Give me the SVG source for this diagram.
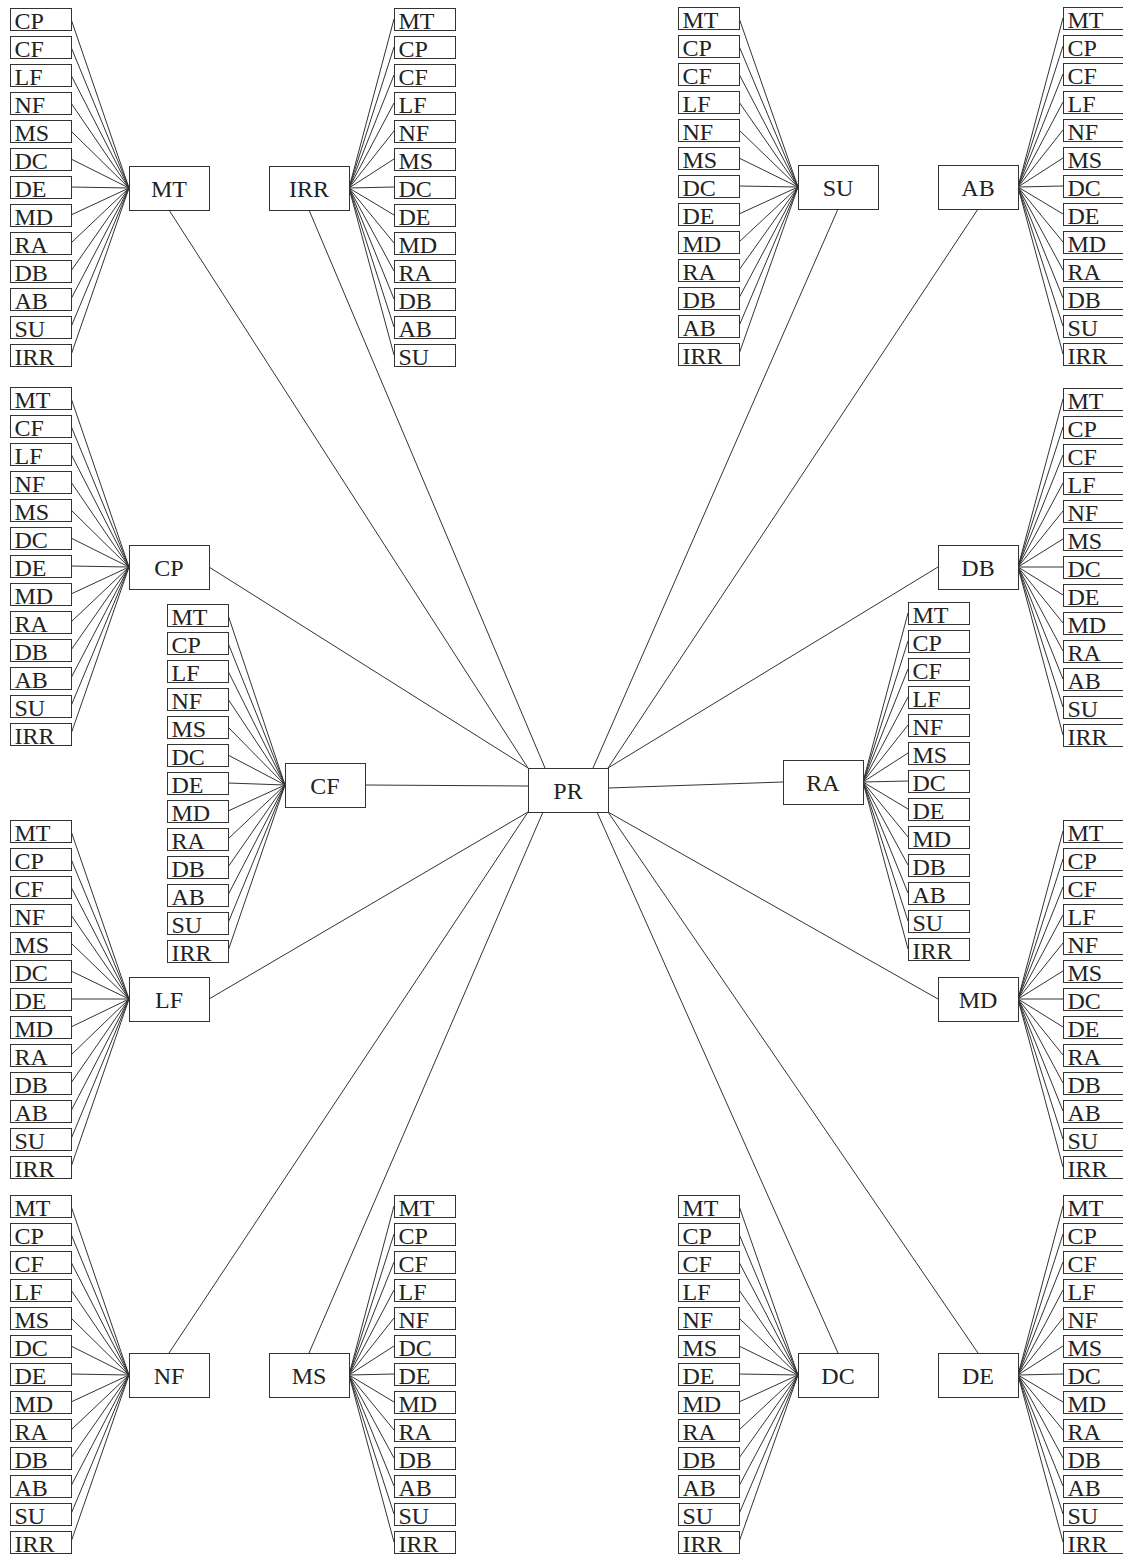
<svg xmlns="http://www.w3.org/2000/svg" xmlns:xlink="http://www.w3.org/1999/xlink" width="1123" height="1554" viewBox="0 0 1123 1554">
<style>
.bx{fill:#fff;stroke:#333;stroke-width:1}
.t{font-family:"Liberation Serif","Times New Roman",serif;font-size:24px;fill:#222}
.hc{text-anchor:middle}
.cn{fill:none;stroke:#333;stroke-width:1}
</style>
<defs>
<rect id="lb" class="bx" width="61" height="22"/>
<rect id="hb" class="bx" width="80" height="44"/>
</defs>
<rect width="1123" height="1554" fill="#fff"/>
<g id="connectors" class="cn">
<path d="M71 19L129 188M71 47L129 188M71 75L129 188M71 103L129 188M71 131L129 188M71 159L129 188M71 187L129 188M71 215L129 188M71 243L129 188M71 271L129 188M71 299L129 188M71 327L129 188M71 355L129 188"/>
<path d="M349 188L394 19M349 188L394 47M349 188L394 75M349 188L394 103M349 188L394 131M349 188L394 159M349 188L394 187M349 188L394 215M349 188L394 243M349 188L394 271M349 188L394 299M349 188L394 327M349 188L394 355"/>
<path d="M739 18L798 187M739 46L798 187M739 74L798 187M739 102L798 187M739 130L798 187M739 158L798 187M739 186L798 187M739 214L798 187M739 242L798 187M739 270L798 187M739 298L798 187M739 326L798 187M739 354L798 187"/>
<path d="M1018 187L1063 18M1018 187L1063 46M1018 187L1063 74M1018 187L1063 102M1018 187L1063 130M1018 187L1063 158M1018 187L1063 186M1018 187L1063 214M1018 187L1063 242M1018 187L1063 270M1018 187L1063 298M1018 187L1063 326M1018 187L1063 354"/>
<path d="M71 398L129 567M71 426L129 567M71 454L129 567M71 482L129 567M71 510L129 567M71 538L129 567M71 566L129 567M71 594L129 567M71 622L129 567M71 650L129 567M71 678L129 567M71 706L129 567M71 734L129 567"/>
<path d="M1018 567L1063 399M1018 567L1063 427M1018 567L1063 455M1018 567L1063 483M1018 567L1063 511M1018 567L1063 539M1018 567L1063 567M1018 567L1063 595M1018 567L1063 623M1018 567L1063 651M1018 567L1063 679M1018 567L1063 707M1018 567L1063 735"/>
<path d="M228 615L285 785M228 643L285 785M228 671L285 785M228 699L285 785M228 727L285 785M228 755L285 785M228 783L285 785M228 811L285 785M228 839L285 785M228 867L285 785M228 895L285 785M228 923L285 785M228 951L285 785"/>
<path d="M863 782L908 613M863 782L908 641M863 782L908 669M863 782L908 697M863 782L908 725M863 782L908 753M863 782L908 781M863 782L908 809M863 782L908 837M863 782L908 865M863 782L908 893M863 782L908 921M863 782L908 949"/>
<path d="M71 831L129 999M71 859L129 999M71 887L129 999M71 915L129 999M71 943L129 999M71 971L129 999M71 999L129 999M71 1027L129 999M71 1055L129 999M71 1083L129 999M71 1111L129 999M71 1139L129 999M71 1167L129 999"/>
<path d="M1018 999L1063 831M1018 999L1063 859M1018 999L1063 887M1018 999L1063 915M1018 999L1063 943M1018 999L1063 971M1018 999L1063 999M1018 999L1063 1027M1018 999L1063 1055M1018 999L1063 1083M1018 999L1063 1111M1018 999L1063 1139M1018 999L1063 1167"/>
<path d="M71 1206L129 1375M71 1234L129 1375M71 1262L129 1375M71 1290L129 1375M71 1318L129 1375M71 1346L129 1375M71 1374L129 1375M71 1402L129 1375M71 1430L129 1375M71 1458L129 1375M71 1486L129 1375M71 1514L129 1375M71 1542L129 1375"/>
<path d="M349 1375L394 1206M349 1375L394 1234M349 1375L394 1262M349 1375L394 1290M349 1375L394 1318M349 1375L394 1346M349 1375L394 1374M349 1375L394 1402M349 1375L394 1430M349 1375L394 1458M349 1375L394 1486M349 1375L394 1514M349 1375L394 1542"/>
<path d="M739 1206L798 1375M739 1234L798 1375M739 1262L798 1375M739 1290L798 1375M739 1318L798 1375M739 1346L798 1375M739 1374L798 1375M739 1402L798 1375M739 1430L798 1375M739 1458L798 1375M739 1486L798 1375M739 1514L798 1375M739 1542L798 1375"/>
<path d="M1018 1375L1063 1206M1018 1375L1063 1234M1018 1375L1063 1262M1018 1375L1063 1290M1018 1375L1063 1318M1018 1375L1063 1346M1018 1375L1063 1374M1018 1375L1063 1402M1018 1375L1063 1430M1018 1375L1063 1458M1018 1375L1063 1486M1018 1375L1063 1514M1018 1375L1063 1542"/>
<path d="M169 210L528 768M309 210L545 768M838 209L593 768M978 209L608 768M209 567L528 768M938 567L608 768M365 785L528 786M608 788L783 782M209 999L528 812M938 999L608 812M169 1353L528 812M309 1353L543 812M838 1353L597 812M978 1353L608 812"/>
</g>
<g id="PR"><use href="#hb" x="528.5" y="768.5"/><text class="t hc" x="568" y="799">PR</text></g>
<g id="MT"><use href="#hb" x="129.5" y="166.5"/><text class="t hc" x="169" y="197">MT</text></g>
<g id="MT-leaves" transform="translate(10.5,8.5)"><use href="#lb"/><use href="#lb" y="28"/><use href="#lb" y="56"/><use href="#lb" y="84"/><use href="#lb" y="112"/><use href="#lb" y="140"/><use href="#lb" y="168"/><use href="#lb" y="196"/><use href="#lb" y="224"/><use href="#lb" y="252"/><use href="#lb" y="280"/><use href="#lb" y="308"/><use href="#lb" y="336"/>
<text class="t" x="4" y="20">CP</text><text class="t" x="4" y="48">CF</text><text class="t" x="4" y="76">LF</text><text class="t" x="4" y="104">NF</text><text class="t" x="4" y="132">MS</text><text class="t" x="4" y="160">DC</text><text class="t" x="4" y="188">DE</text><text class="t" x="4" y="216">MD</text><text class="t" x="4" y="244">RA</text><text class="t" x="4" y="272">DB</text><text class="t" x="4" y="300">AB</text><text class="t" x="4" y="328">SU</text><text class="t" x="4" y="356">IRR</text></g>
<g id="IRR"><use href="#hb" x="269.5" y="166.5"/><text class="t hc" x="309" y="197">IRR</text></g>
<g id="IRR-leaves" transform="translate(394.5,8.5)"><use href="#lb"/><use href="#lb" y="28"/><use href="#lb" y="56"/><use href="#lb" y="84"/><use href="#lb" y="112"/><use href="#lb" y="140"/><use href="#lb" y="168"/><use href="#lb" y="196"/><use href="#lb" y="224"/><use href="#lb" y="252"/><use href="#lb" y="280"/><use href="#lb" y="308"/><use href="#lb" y="336"/>
<text class="t" x="4" y="20">MT</text><text class="t" x="4" y="48">CP</text><text class="t" x="4" y="76">CF</text><text class="t" x="4" y="104">LF</text><text class="t" x="4" y="132">NF</text><text class="t" x="4" y="160">MS</text><text class="t" x="4" y="188">DC</text><text class="t" x="4" y="216">DE</text><text class="t" x="4" y="244">MD</text><text class="t" x="4" y="272">RA</text><text class="t" x="4" y="300">DB</text><text class="t" x="4" y="328">AB</text><text class="t" x="4" y="356">SU</text></g>
<g id="SU"><use href="#hb" x="798.5" y="165.5"/><text class="t hc" x="838" y="196">SU</text></g>
<g id="SU-leaves" transform="translate(678.5,7.5)"><use href="#lb"/><use href="#lb" y="28"/><use href="#lb" y="56"/><use href="#lb" y="84"/><use href="#lb" y="112"/><use href="#lb" y="140"/><use href="#lb" y="168"/><use href="#lb" y="196"/><use href="#lb" y="224"/><use href="#lb" y="252"/><use href="#lb" y="280"/><use href="#lb" y="308"/><use href="#lb" y="336"/>
<text class="t" x="4" y="20">MT</text><text class="t" x="4" y="48">CP</text><text class="t" x="4" y="76">CF</text><text class="t" x="4" y="104">LF</text><text class="t" x="4" y="132">NF</text><text class="t" x="4" y="160">MS</text><text class="t" x="4" y="188">DC</text><text class="t" x="4" y="216">DE</text><text class="t" x="4" y="244">MD</text><text class="t" x="4" y="272">RA</text><text class="t" x="4" y="300">DB</text><text class="t" x="4" y="328">AB</text><text class="t" x="4" y="356">IRR</text></g>
<g id="AB"><use href="#hb" x="938.5" y="165.5"/><text class="t hc" x="978" y="196">AB</text></g>
<g id="AB-leaves" transform="translate(1063.5,7.5)"><use href="#lb"/><use href="#lb" y="28"/><use href="#lb" y="56"/><use href="#lb" y="84"/><use href="#lb" y="112"/><use href="#lb" y="140"/><use href="#lb" y="168"/><use href="#lb" y="196"/><use href="#lb" y="224"/><use href="#lb" y="252"/><use href="#lb" y="280"/><use href="#lb" y="308"/><use href="#lb" y="336"/>
<text class="t" x="4" y="20">MT</text><text class="t" x="4" y="48">CP</text><text class="t" x="4" y="76">CF</text><text class="t" x="4" y="104">LF</text><text class="t" x="4" y="132">NF</text><text class="t" x="4" y="160">MS</text><text class="t" x="4" y="188">DC</text><text class="t" x="4" y="216">DE</text><text class="t" x="4" y="244">MD</text><text class="t" x="4" y="272">RA</text><text class="t" x="4" y="300">DB</text><text class="t" x="4" y="328">SU</text><text class="t" x="4" y="356">IRR</text></g>
<g id="CP"><use href="#hb" x="129.5" y="545.5"/><text class="t hc" x="169" y="576">CP</text></g>
<g id="CP-leaves" transform="translate(10.5,387.5)"><use href="#lb"/><use href="#lb" y="28"/><use href="#lb" y="56"/><use href="#lb" y="84"/><use href="#lb" y="112"/><use href="#lb" y="140"/><use href="#lb" y="168"/><use href="#lb" y="196"/><use href="#lb" y="224"/><use href="#lb" y="252"/><use href="#lb" y="280"/><use href="#lb" y="308"/><use href="#lb" y="336"/>
<text class="t" x="4" y="20">MT</text><text class="t" x="4" y="48">CF</text><text class="t" x="4" y="76">LF</text><text class="t" x="4" y="104">NF</text><text class="t" x="4" y="132">MS</text><text class="t" x="4" y="160">DC</text><text class="t" x="4" y="188">DE</text><text class="t" x="4" y="216">MD</text><text class="t" x="4" y="244">RA</text><text class="t" x="4" y="272">DB</text><text class="t" x="4" y="300">AB</text><text class="t" x="4" y="328">SU</text><text class="t" x="4" y="356">IRR</text></g>
<g id="DB"><use href="#hb" x="938.5" y="545.5"/><text class="t hc" x="978" y="576">DB</text></g>
<g id="DB-leaves" transform="translate(1063.5,388.5)"><use href="#lb"/><use href="#lb" y="28"/><use href="#lb" y="56"/><use href="#lb" y="84"/><use href="#lb" y="112"/><use href="#lb" y="140"/><use href="#lb" y="168"/><use href="#lb" y="196"/><use href="#lb" y="224"/><use href="#lb" y="252"/><use href="#lb" y="280"/><use href="#lb" y="308"/><use href="#lb" y="336"/>
<text class="t" x="4" y="20">MT</text><text class="t" x="4" y="48">CP</text><text class="t" x="4" y="76">CF</text><text class="t" x="4" y="104">LF</text><text class="t" x="4" y="132">NF</text><text class="t" x="4" y="160">MS</text><text class="t" x="4" y="188">DC</text><text class="t" x="4" y="216">DE</text><text class="t" x="4" y="244">MD</text><text class="t" x="4" y="272">RA</text><text class="t" x="4" y="300">AB</text><text class="t" x="4" y="328">SU</text><text class="t" x="4" y="356">IRR</text></g>
<g id="CF"><use href="#hb" x="285.5" y="763.5"/><text class="t hc" x="325" y="794">CF</text></g>
<g id="CF-leaves" transform="translate(167.5,604.5)"><use href="#lb"/><use href="#lb" y="28"/><use href="#lb" y="56"/><use href="#lb" y="84"/><use href="#lb" y="112"/><use href="#lb" y="140"/><use href="#lb" y="168"/><use href="#lb" y="196"/><use href="#lb" y="224"/><use href="#lb" y="252"/><use href="#lb" y="280"/><use href="#lb" y="308"/><use href="#lb" y="336"/>
<text class="t" x="4" y="20">MT</text><text class="t" x="4" y="48">CP</text><text class="t" x="4" y="76">LF</text><text class="t" x="4" y="104">NF</text><text class="t" x="4" y="132">MS</text><text class="t" x="4" y="160">DC</text><text class="t" x="4" y="188">DE</text><text class="t" x="4" y="216">MD</text><text class="t" x="4" y="244">RA</text><text class="t" x="4" y="272">DB</text><text class="t" x="4" y="300">AB</text><text class="t" x="4" y="328">SU</text><text class="t" x="4" y="356">IRR</text></g>
<g id="RA"><use href="#hb" x="783.5" y="760.5"/><text class="t hc" x="823" y="791">RA</text></g>
<g id="RA-leaves" transform="translate(908.5,602.5)"><use href="#lb"/><use href="#lb" y="28"/><use href="#lb" y="56"/><use href="#lb" y="84"/><use href="#lb" y="112"/><use href="#lb" y="140"/><use href="#lb" y="168"/><use href="#lb" y="196"/><use href="#lb" y="224"/><use href="#lb" y="252"/><use href="#lb" y="280"/><use href="#lb" y="308"/><use href="#lb" y="336"/>
<text class="t" x="4" y="20">MT</text><text class="t" x="4" y="48">CP</text><text class="t" x="4" y="76">CF</text><text class="t" x="4" y="104">LF</text><text class="t" x="4" y="132">NF</text><text class="t" x="4" y="160">MS</text><text class="t" x="4" y="188">DC</text><text class="t" x="4" y="216">DE</text><text class="t" x="4" y="244">MD</text><text class="t" x="4" y="272">DB</text><text class="t" x="4" y="300">AB</text><text class="t" x="4" y="328">SU</text><text class="t" x="4" y="356">IRR</text></g>
<g id="LF"><use href="#hb" x="129.5" y="977.5"/><text class="t hc" x="169" y="1008">LF</text></g>
<g id="LF-leaves" transform="translate(10.5,820.5)"><use href="#lb"/><use href="#lb" y="28"/><use href="#lb" y="56"/><use href="#lb" y="84"/><use href="#lb" y="112"/><use href="#lb" y="140"/><use href="#lb" y="168"/><use href="#lb" y="196"/><use href="#lb" y="224"/><use href="#lb" y="252"/><use href="#lb" y="280"/><use href="#lb" y="308"/><use href="#lb" y="336"/>
<text class="t" x="4" y="20">MT</text><text class="t" x="4" y="48">CP</text><text class="t" x="4" y="76">CF</text><text class="t" x="4" y="104">NF</text><text class="t" x="4" y="132">MS</text><text class="t" x="4" y="160">DC</text><text class="t" x="4" y="188">DE</text><text class="t" x="4" y="216">MD</text><text class="t" x="4" y="244">RA</text><text class="t" x="4" y="272">DB</text><text class="t" x="4" y="300">AB</text><text class="t" x="4" y="328">SU</text><text class="t" x="4" y="356">IRR</text></g>
<g id="MD"><use href="#hb" x="938.5" y="977.5"/><text class="t hc" x="978" y="1008">MD</text></g>
<g id="MD-leaves" transform="translate(1063.5,820.5)"><use href="#lb"/><use href="#lb" y="28"/><use href="#lb" y="56"/><use href="#lb" y="84"/><use href="#lb" y="112"/><use href="#lb" y="140"/><use href="#lb" y="168"/><use href="#lb" y="196"/><use href="#lb" y="224"/><use href="#lb" y="252"/><use href="#lb" y="280"/><use href="#lb" y="308"/><use href="#lb" y="336"/>
<text class="t" x="4" y="20">MT</text><text class="t" x="4" y="48">CP</text><text class="t" x="4" y="76">CF</text><text class="t" x="4" y="104">LF</text><text class="t" x="4" y="132">NF</text><text class="t" x="4" y="160">MS</text><text class="t" x="4" y="188">DC</text><text class="t" x="4" y="216">DE</text><text class="t" x="4" y="244">RA</text><text class="t" x="4" y="272">DB</text><text class="t" x="4" y="300">AB</text><text class="t" x="4" y="328">SU</text><text class="t" x="4" y="356">IRR</text></g>
<g id="NF"><use href="#hb" x="129.5" y="1353.5"/><text class="t hc" x="169" y="1384">NF</text></g>
<g id="NF-leaves" transform="translate(10.5,1195.5)"><use href="#lb"/><use href="#lb" y="28"/><use href="#lb" y="56"/><use href="#lb" y="84"/><use href="#lb" y="112"/><use href="#lb" y="140"/><use href="#lb" y="168"/><use href="#lb" y="196"/><use href="#lb" y="224"/><use href="#lb" y="252"/><use href="#lb" y="280"/><use href="#lb" y="308"/><use href="#lb" y="336"/>
<text class="t" x="4" y="20">MT</text><text class="t" x="4" y="48">CP</text><text class="t" x="4" y="76">CF</text><text class="t" x="4" y="104">LF</text><text class="t" x="4" y="132">MS</text><text class="t" x="4" y="160">DC</text><text class="t" x="4" y="188">DE</text><text class="t" x="4" y="216">MD</text><text class="t" x="4" y="244">RA</text><text class="t" x="4" y="272">DB</text><text class="t" x="4" y="300">AB</text><text class="t" x="4" y="328">SU</text><text class="t" x="4" y="356">IRR</text></g>
<g id="MS"><use href="#hb" x="269.5" y="1353.5"/><text class="t hc" x="309" y="1384">MS</text></g>
<g id="MS-leaves" transform="translate(394.5,1195.5)"><use href="#lb"/><use href="#lb" y="28"/><use href="#lb" y="56"/><use href="#lb" y="84"/><use href="#lb" y="112"/><use href="#lb" y="140"/><use href="#lb" y="168"/><use href="#lb" y="196"/><use href="#lb" y="224"/><use href="#lb" y="252"/><use href="#lb" y="280"/><use href="#lb" y="308"/><use href="#lb" y="336"/>
<text class="t" x="4" y="20">MT</text><text class="t" x="4" y="48">CP</text><text class="t" x="4" y="76">CF</text><text class="t" x="4" y="104">LF</text><text class="t" x="4" y="132">NF</text><text class="t" x="4" y="160">DC</text><text class="t" x="4" y="188">DE</text><text class="t" x="4" y="216">MD</text><text class="t" x="4" y="244">RA</text><text class="t" x="4" y="272">DB</text><text class="t" x="4" y="300">AB</text><text class="t" x="4" y="328">SU</text><text class="t" x="4" y="356">IRR</text></g>
<g id="DC"><use href="#hb" x="798.5" y="1353.5"/><text class="t hc" x="838" y="1384">DC</text></g>
<g id="DC-leaves" transform="translate(678.5,1195.5)"><use href="#lb"/><use href="#lb" y="28"/><use href="#lb" y="56"/><use href="#lb" y="84"/><use href="#lb" y="112"/><use href="#lb" y="140"/><use href="#lb" y="168"/><use href="#lb" y="196"/><use href="#lb" y="224"/><use href="#lb" y="252"/><use href="#lb" y="280"/><use href="#lb" y="308"/><use href="#lb" y="336"/>
<text class="t" x="4" y="20">MT</text><text class="t" x="4" y="48">CP</text><text class="t" x="4" y="76">CF</text><text class="t" x="4" y="104">LF</text><text class="t" x="4" y="132">NF</text><text class="t" x="4" y="160">MS</text><text class="t" x="4" y="188">DE</text><text class="t" x="4" y="216">MD</text><text class="t" x="4" y="244">RA</text><text class="t" x="4" y="272">DB</text><text class="t" x="4" y="300">AB</text><text class="t" x="4" y="328">SU</text><text class="t" x="4" y="356">IRR</text></g>
<g id="DE"><use href="#hb" x="938.5" y="1353.5"/><text class="t hc" x="978" y="1384">DE</text></g>
<g id="DE-leaves" transform="translate(1063.5,1195.5)"><use href="#lb"/><use href="#lb" y="28"/><use href="#lb" y="56"/><use href="#lb" y="84"/><use href="#lb" y="112"/><use href="#lb" y="140"/><use href="#lb" y="168"/><use href="#lb" y="196"/><use href="#lb" y="224"/><use href="#lb" y="252"/><use href="#lb" y="280"/><use href="#lb" y="308"/><use href="#lb" y="336"/>
<text class="t" x="4" y="20">MT</text><text class="t" x="4" y="48">CP</text><text class="t" x="4" y="76">CF</text><text class="t" x="4" y="104">LF</text><text class="t" x="4" y="132">NF</text><text class="t" x="4" y="160">MS</text><text class="t" x="4" y="188">DC</text><text class="t" x="4" y="216">MD</text><text class="t" x="4" y="244">RA</text><text class="t" x="4" y="272">DB</text><text class="t" x="4" y="300">AB</text><text class="t" x="4" y="328">SU</text><text class="t" x="4" y="356">IRR</text></g>
</svg>
